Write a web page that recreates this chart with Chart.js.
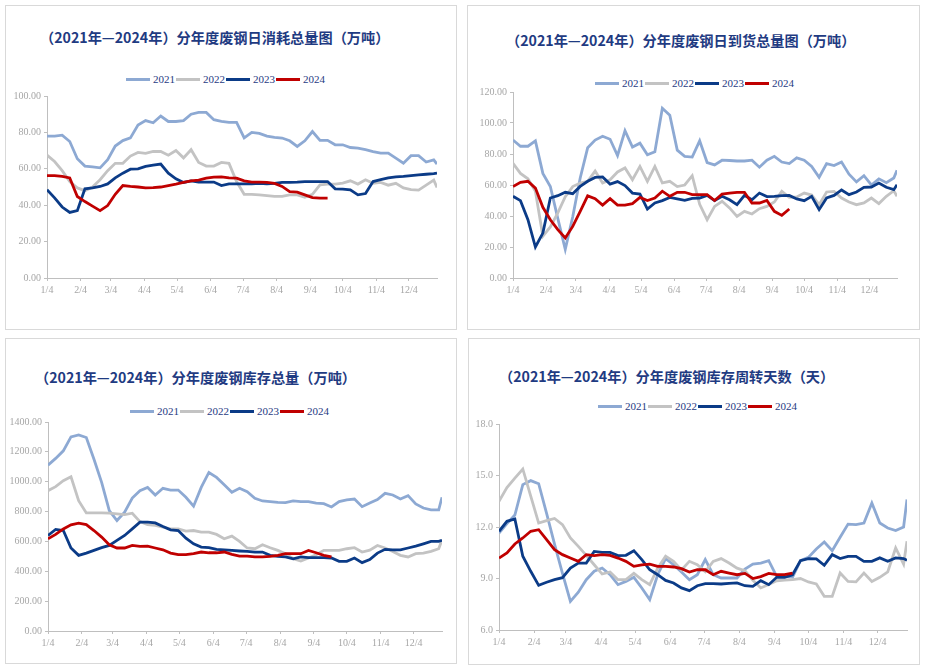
<!DOCTYPE html>
<html>
<head>
<meta charset="utf-8">
<script src="https://cdn.jsdelivr.net/npm/chart.js@4.4.1/dist/chart.umd.min.js"></script>
<style>
  body { margin: 0; width: 927px; height: 670px; background: #fff; position: relative; overflow: hidden; font-family: "Noto Sans CJK SC", sans-serif; }
  .panel { position: absolute; border: 1px solid #d9d9d9; box-sizing: border-box; }
  .title { position: absolute; font-weight: bold; font-size: 14.2px; color: #1f3b82; white-space: nowrap; line-height: 20px; }
  .legend { position: absolute; display: flex; align-items: center; font-family: "Liberation Serif", serif; font-size: 11px; color: #1f3b82; line-height: 14px; height: 14px; }
  .legend .l { display: inline-block; width: 24px; height: 3px; margin-right: 3px; }
  .legend .t { display: inline-block; width: 20px; margin-right: 3px; }
  canvas { position: absolute; }
</style>
</head>
<body>

<div class="panel" style="left:5px;top:5px;width:452px;height:325px"></div>
<div class="panel" style="left:467px;top:5px;width:453px;height:325px"></div>
<div class="panel" style="left:5px;top:338px;width:452px;height:326px"></div>
<div class="panel" style="left:468px;top:338px;width:452px;height:327px"></div>

<div class="title" style="left:40px;top:27px">（2021年—2024年）分年度废钢日消耗总量图（万吨）</div>
<div class="title" style="left:506px;top:30px">（2021年—2024年）分年度废钢日到货总量图（万吨）</div>
<div class="title" style="left:35px;top:367px">（2021年—2024年）分年度废钢库存总量（万吨）</div>
<div class="title" style="left:499px;top:366px">（2021年—2024年）分年度废钢库存周转天数（天）</div>

<div class="legend" id="lg1" style="left:126px;top:72px"></div>
<div class="legend" id="lg2" style="left:595px;top:76px"></div>
<div class="legend" id="lg3" style="left:130px;top:404px"></div>
<div class="legend" id="lg4" style="left:598px;top:399px"></div>

<canvas id="c1" width="436" height="220" style="left:7px;top:86px"></canvas>
<canvas id="c2" width="430" height="224" style="left:473px;top:82px"></canvas>
<canvas id="c3" width="440" height="247" style="left:8px;top:412px"></canvas>
<canvas id="c4" width="454" height="244" style="left:459px;top:414px"></canvas>

<script>
// x axis: days counted from 1/4, one point per week
const monthDays = [0, 31, 59, 90, 120, 151, 181, 212, 243, 273, 304, 334];
const monthLabels = ['1/4', '2/4', '3/4', '4/4', '5/4', '6/4', '7/4', '8/4', '9/4', '10/4', '11/4', '12/4'];
const years = ['2021', '2022', '2023', '2024'];
const colors = ['#8da9d3', '#c3c3c3', '#0b3b87', '#c00000'];

// 日消耗总量（万吨）
const use2021 = [78, 78, 78.5, 75, 65.5, 61.5, 61, 60.5, 65, 72.5, 75.5, 77, 84, 86.5, 85.3, 89, 86, 86, 86.5, 90, 91, 91, 87, 86, 85.5, 85.5,
  77, 80, 79.5, 78, 77.3, 76.9, 75.4, 72.3, 75.4, 80.5, 75.6, 75.6, 73.2, 73.2, 71.7, 71.4, 70.5, 69.5, 68.6, 68.6, 65.9, 63.1, 67.2, 67.2, 63.7, 64.9, 62.6];
const use2022 = [67.5, 64, 59, 53, 49.5, 48, 50, 54, 59, 63, 63, 67, 69, 68.5, 69.5, 69.5, 67.5, 70, 66, 70.5, 63.5, 61.5, 61.5, 63.5, 63, 53,
  46, 46, 45.7, 45.3, 44.8, 44.8, 45.7, 45.7, 44.4, 46, 51.2, 51.6, 51.6, 52.1, 53.4, 51.6, 54, 52, 52.5, 51, 52, 49.5, 48.5, 48.3, 51, 53.8, 49.7];
const use2023 = [48.5, 44, 39, 36, 37, 49, 49.5, 50.3, 51.7, 55, 57.6, 59.8, 60, 61.3, 62, 62.6, 57.6, 54.5, 52.5, 53.4, 52.7, 52.7, 52.7, 50.8, 51.7, 51.7,
  51.7, 51.7, 52, 51.7, 52, 52.5, 52.5, 52.7, 53, 53, 53, 53, 49, 48.8, 48.4, 45.7, 46.4, 53, 54, 55, 55.6, 55.8, 56.3, 56.7, 57, 57.3, 57.6];
const use2024 = [56.3, 56.3, 55.8, 55, 44.8, 42, 39.5, 37, 39.8, 46, 50.8, 50.3, 50, 49.5, 49.7, 50, 50.8, 51.6, 52.5, 53.4, 53.8, 54.9, 55.4, 55.6, 55, 54.9,
  53.4, 52.7, 52.7, 52.5, 52, 50.3, 47.5, 47.2, 45.7, 44.2, 43.9, 43.9];

// 日到货总量（万吨）
const arr2021 = [89, 85, 85, 88.5, 67.5, 59, 38.5, 18.5, 39.5, 64.5, 84, 89, 91.5, 89.5, 79, 95, 84.5, 87, 79.5, 81.5, 109.5, 105, 82.5, 78.5, 78, 88.5,
  74.5, 73, 76, 75.8, 75.5, 75.5, 76, 71.5, 76, 78.5, 74.8, 73.8, 77.5, 76, 72, 65, 73.8, 72.5, 74.8, 67, 62, 66, 60, 64, 61.5, 64.5, 69.5];
const arr2022 = [74, 67.5, 64, 56, 27, 33, 42, 52.5, 59, 61.3, 62.4, 69, 61.3, 63.4, 68.4, 71, 63.4, 72, 62.4, 72, 61.3, 62.4, 59, 60, 66, 47.5,
  37.6, 46.2, 49.5, 45.2, 39.8, 43, 41.3, 44.7, 46.2, 49, 55.9, 52, 52.3, 54.8, 53.5, 47.3, 55.5, 55.9, 51.6, 49, 47.3, 48.4, 51.6, 48, 52.7, 56.3, 52.7];
const arr2023 = [52.7, 49.9, 37.6, 20, 29, 51.6, 53.1, 55.3, 54.4, 59.1, 62.4, 64.9, 65.2, 60.6, 62.2, 59.6, 54.8, 54.2, 44.5, 48.4, 49.9, 52, 51, 50.1, 51.4, 51.6,
  53.3, 49.9, 52.7, 50.5, 47.3, 53.3, 50.5, 54.8, 52.5, 52.7, 53.1, 53.3, 51, 49.9, 52.7, 44.1, 51.6, 53.3, 56.8, 53.8, 55.5, 58.5, 58.7, 61.3, 58.5, 57, 60.2];
const arr2024 = [59, 61.7, 62.4, 58, 45.6, 37.6, 31.2, 25.8, 33.3, 43, 53, 51.2, 47, 51.2, 47, 47, 48, 52, 50, 51.6, 56, 52.7, 55.3, 55.3, 53.8, 53.8,
  53.8, 50, 54.2, 54.8, 55.3, 55.3, 48.4, 48.4, 50, 43, 40.4, 44.5];

// 库存总量（万吨）
const stock2021 = [1111, 1156, 1207, 1300, 1313, 1296, 1151, 996, 807, 740, 796, 891, 940, 962, 911, 956, 944, 944, 896, 836, 962, 1062, 1029, 980, 929, 956,
  933, 889, 871, 867, 862, 860, 871, 867, 867, 856, 853, 831, 867, 878, 884, 833, 858, 880, 922, 911, 884, 907, 851, 824, 811, 811, 896];
const stock2022 = [940, 967, 1007, 1033, 873, 791, 791, 791, 789, 784, 780, 789, 733, 713, 707, 696, 684, 684, 669, 673, 662, 662, 647, 618, 636, 600,
  556, 551, 578, 558, 540, 518, 484, 469, 489, 511, 540, 540, 540, 551, 558, 529, 542, 573, 556, 533, 507, 496, 518, 522, 533, 551, 610];
const stock2023 = [640, 680, 673, 556, 507, 522, 540, 558, 573, 607, 640, 684, 729, 729, 724, 700, 678, 673, 622, 584, 562, 558, 547, 544, 540, 536,
  533, 529, 529, 507, 500, 496, 484, 496, 491, 491, 491, 489, 467, 467, 489, 458, 478, 522, 547, 544, 544, 556, 569, 584, 600, 600, 607];
const stock2024 = [618, 647, 684, 711, 722, 713, 673, 629, 578, 556, 556, 573, 567, 569, 556, 544, 522, 511, 511, 518, 529, 524, 524, 529, 513, 502,
  502, 496, 496, 500, 507, 518, 518, 518, 540, 524, 507, 496];

// 库存周转天数（天）
const days2021 = [11.65, 12.2, 12.7, 14.47, 14.7, 14.52, 12.8, 11.0, 9.3, 7.67, 8.2, 8.93, 9.42, 9.61, 9.22, 8.64, 8.83, 9.07, 8.45, 7.77, 9.22, 10.16, 9.8, 9.38, 8.93, 9.22,
  10.1, 9.22, 9.03, 9.03, 9.03, 9.55, 9.84, 9.9, 10.04, 9.13, 9.13, 9.07, 10.04, 10.23, 10.72, 11.13, 10.62, 11.4, 12.17, 12.14, 12.23, 13.4, 12.23, 11.94, 11.79, 12, 13.6];
const days2022 = [13.5, 14.3, 14.85, 15.38, 13.8, 12.23, 12.37, 12.5, 12.14, 11.36, 10.87, 10.35, 9.8, 9.26, 9.38, 8.93, 8.93, 9.3, 8.93, 8.64, 9.6, 10.3, 10.0, 9.5, 10.0, 9.8,
  9.4, 10, 10.16, 9.9, 9.6, 9.45, 8.9, 8.45, 8.65, 8.87, 8.9, 8.93, 9, 8.8, 8.68, 7.96, 7.96, 9.32, 8.83, 8.8, 9.32, 8.83, 9.07, 9.38, 10.78, 9.84, 11.17];
const days2023 = [11.75, 12.33, 12.47, 10.3, 9.42, 8.6, 8.78, 8.93, 9.05, 9.61, 9.9, 9.9, 10.58, 10.52, 10.52, 10.33, 10.35, 10.62, 10.1, 9.51, 9.22, 8.89, 8.74, 8.45, 8.29, 8.58,
  8.7, 8.7, 8.68, 8.72, 8.74, 8.58, 8.54, 8.87, 8.64, 9.07, 9.07, 9.22, 10.04, 10.16, 10.14, 9.77, 10.39, 10.16, 10.29, 10.29, 10, 10, 10.2, 10, 10.2, 10.16, 10.06];
const days2024 = [10.19, 10.49, 11.01, 11.36, 11.75, 11.84, 11.26, 10.68, 10.39, 10.19, 10, 10.39, 10.33, 10.39, 10.35, 10.19, 10, 9.71, 9.8, 9.84, 9.71, 9.71, 9.67, 9.57, 9.38, 9.51,
  9.51, 9.22, 9.42, 9.32, 9.22, 9.3, 9.0, 9.11, 9.3, 9.22, 9.22, 9.32];

// weekly points, the last one of the year sits on 12/31
function points(vals) {
  return vals.map((v, i) => ({ x: Math.min(7 * i, 360), y: v }));
}

const axisGray = '#bfbfbf';
const labelGray = '#a6a6a6';
const tickFont = { family: '"Liberation Serif", "DejaVu Serif", serif', size: 10 };

function drawChart(id, series, yMin, yMax, yStep, dec) {
  const datasets = series.map((vals, k) => ({
    label: years[k],
    data: points(vals),
    borderColor: colors[k],
    backgroundColor: colors[k],
    borderWidth: 2.8,
    pointRadius: 0,
    tension: 0,
    fill: false,
    order: 3 - k
  }));
  const grid = { display: true, drawOnChartArea: false, drawTicks: true, tickLength: 3, color: axisGray };
  const border = { display: true, color: axisGray, width: 1 };
  new Chart(document.getElementById(id), {
    type: 'line',
    data: { datasets },
    options: {
      responsive: false,
      animation: false,
      layout: { padding: { left: 0, top: 10, right: 6, bottom: 0 } },
      plugins: { legend: { display: false }, tooltip: { enabled: false } },
      scales: {
        x: {
          type: 'linear', min: 0, max: 360,
          afterBuildTicks: s => { s.ticks = monthDays.map(v => ({ value: v })); },
          afterFit: s => { s.height = 28; },
          grid, border,
          ticks: {
            autoSkip: false, maxRotation: 0, padding: 3, color: labelGray, font: tickFont,
            callback: (v, i) => monthLabels[i]
          }
        },
        y: {
          min: yMin, max: yMax,
          afterFit: s => { s.width = 40; },
          grid, border,
          ticks: { stepSize: yStep, padding: 3, color: labelGray, font: tickFont, callback: v => v.toFixed(dec) }
        }
      }
    }
  });
}

function drawLegend(id) {
  const box = document.getElementById(id);
  years.forEach((y, k) => {
    const l = document.createElement('span');
    l.className = 'l';
    l.style.background = colors[k];
    const t = document.createElement('span');
    t.className = 't';
    t.textContent = y;
    box.appendChild(l);
    box.appendChild(t);
  });
}

['lg1', 'lg2', 'lg3', 'lg4'].forEach(drawLegend);

drawChart('c1', [use2021, use2022, use2023, use2024], 0, 100, 20, 2);
drawChart('c2', [arr2021, arr2022, arr2023, arr2024], 0, 120, 20, 2);
drawChart('c3', [stock2021, stock2022, stock2023, stock2024], 0, 1400, 200, 2);
drawChart('c4', [days2021, days2022, days2023, days2024], 6, 18, 3, 1);
</script>
</body>
</html>
